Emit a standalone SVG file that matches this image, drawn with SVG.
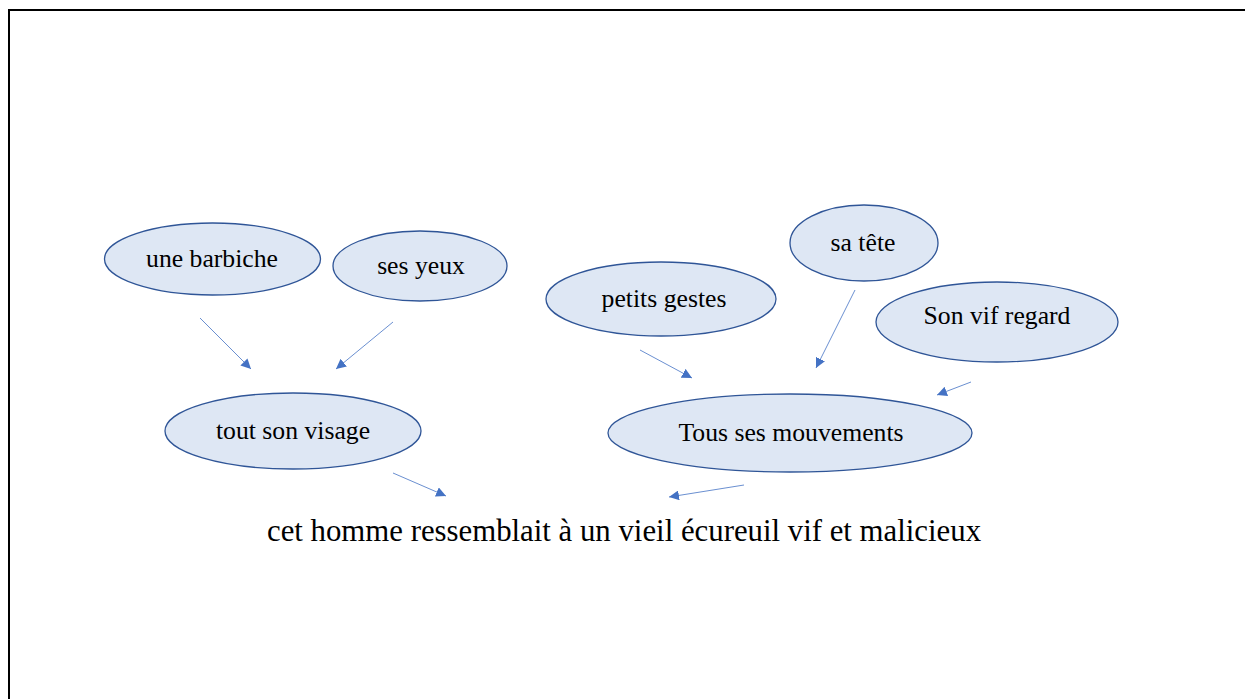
<svg xmlns="http://www.w3.org/2000/svg" width="1245" height="699" viewBox="0 0 1245 699">
<defs>
<style>
.node ellipse{fill:#DEE7F4;stroke:#2F5597;stroke-width:1.3}
.node text{font-family:"Liberation Serif","Times New Roman",serif;font-size:25.7px;fill:#000;text-anchor:middle}
.edges line{stroke:#4472C4;stroke-width:0.8;marker-end:url(#ah)}
</style>
<marker id="ah" viewBox="0 0 10 10" refX="10" refY="5" markerWidth="10" markerHeight="10" markerUnits="userSpaceOnUse" orient="auto">
<path d="M0,0 L10,5 L0,10 z" fill="#4472C4"/>
</marker>
</defs>
<rect width="1245" height="699" fill="#fff"/>
<rect x="9" y="10" width="1300" height="760" fill="none" stroke="#000" stroke-width="2"/>
<g id="n-barbiche" class="node"><ellipse cx="212.5" cy="259" rx="108" ry="36"/><text x="212" y="267">une barbiche</text></g>
<g id="n-yeux" class="node"><ellipse cx="420" cy="266" rx="87" ry="35"/><text x="421" y="274">ses yeux</text></g>
<g id="n-tete" class="node"><ellipse cx="864" cy="243" rx="74" ry="38"/><text x="863" y="251">sa tête</text></g>
<g id="n-gestes" class="node"><ellipse cx="661" cy="299" rx="115" ry="37"/><text x="664" y="307">petits gestes</text></g>
<g id="n-regard" class="node"><ellipse cx="997" cy="322" rx="121" ry="40"/><text x="997" y="324">Son vif regard</text></g>
<g id="n-visage" class="node"><ellipse cx="293" cy="431" rx="128" ry="38"/><text x="293" y="439">tout son visage</text></g>
<g id="n-mouvements" class="node"><ellipse cx="790" cy="433" rx="182" ry="39"/><text x="791" y="441">Tous ses mouvements</text></g>
<g id="n-phrase"><text x="624" y="541" style="font-family:'Liberation Serif','Times New Roman',serif;font-size:30.8px;fill:#000;text-anchor:middle">cet homme ressemblait à un vieil écureuil vif et malicieux</text></g>
<g id="edges" class="edges">
<line x1="200" y1="318" x2="251" y2="369"/>
<line x1="393" y1="322" x2="336" y2="369"/>
<line x1="640" y1="350" x2="692" y2="378"/>
<line x1="855" y1="290" x2="816" y2="368"/>
<line x1="971" y1="382" x2="937" y2="395"/>
<line x1="393" y1="473" x2="446" y2="496"/>
<line x1="744" y1="485" x2="669" y2="497"/>
</g>
</svg>
